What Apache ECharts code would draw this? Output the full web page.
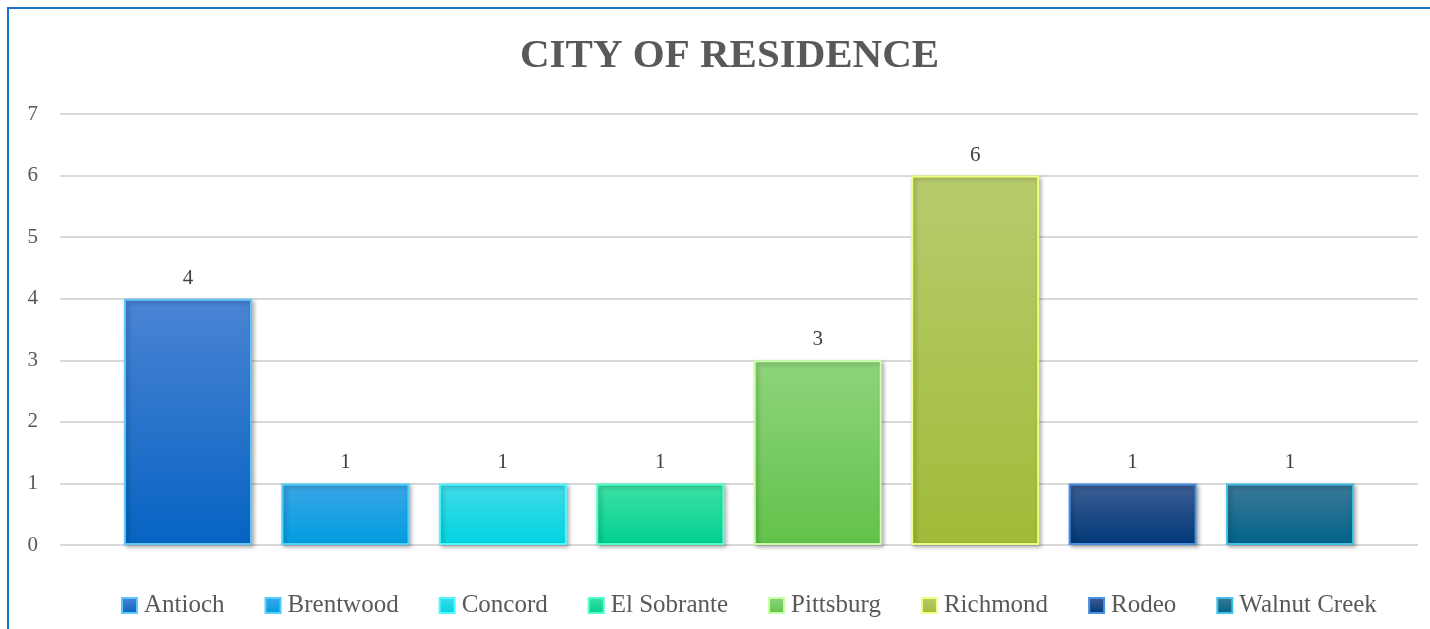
<!DOCTYPE html>
<html>
<head>
<meta charset="utf-8">
<script src="https://cdn.jsdelivr.net/npm/echarts@6/dist/echarts.min.js"></script>
<style>
html,body{margin:0;padding:0;background:#fff;}
#frame{position:absolute;left:7px;top:7px;width:1440px;height:640px;border-left:2px solid #1a72cc;border-top:2px solid #1a72cc;box-sizing:border-box;}
#chart{position:absolute;left:0;top:0;width:1430px;height:629px;}
</style>
</head>
<body>
<div id="frame"></div>
<div id="chart"></div>
<script>
const title = 'CITY OF RESIDENCE';
const cities = ['Antioch','Brentwood','Concord','El Sobrante','Pittsburg','Richmond','Rodeo','Walnut Creek'];
const counts = [4,1,1,1,3,6,1,1];
const yTicks = [0,1,2,3,4,5,6,7];
const topColors = ['#4a84d4','#3aa6e6','#40dce8','#3ee0a4','#8ed47c','#b8cc6e','#3e5e94','#3c7898'];
const bottomColors = ['#0663c2','#009de0','#00d4e0','#00d090','#62c24a','#a0bb38','#003878','#006488'];
const edgeColors = ['#5cc8f8','#50d0ff','#50f8ff','#50ffd0','#c8ffa8','#f0ff80','#4a90e0','#40c0e8'];

const chart = echarts.init(document.getElementById('chart'));
const font = '"Liberation Serif", "DejaVu Serif", serif';
const series = cities.map((c, i) => ({
  name: c,
  type: 'bar',
  barWidth: 128,
  barGap: '23%',
  data: [counts[i]],
  itemStyle: {
    color: new echarts.graphic.LinearGradient(0,0,0,1,[{offset:0,color:topColors[i]},{offset:1,color:bottomColors[i]}]),
    borderColor: edgeColors[i],
    borderWidth: 2,
    shadowBlur: 4,
    shadowColor: 'rgba(0,0,0,0.3)',
    shadowOffsetX: 2,
    shadowOffsetY: 2
  },
  label: {
    show: true,
    position: 'top',
    distance: 10,
    fontFamily: font,
    fontSize: 21,
    color: '#404040'
  }
}));

chart.setOption({
  animation: false,
  title: {
    text: title,
    left: 515,
    top: 31,
    textStyle: {fontFamily: font, fontSize: 41, fontWeight: 'bold', color: '#595959'}
  },
  legend: {
    data: cities,
    bottom: 6,
    left: 116,
    icon: 'rect',
    itemWidth: 15,
    itemHeight: 15,
    itemGap: 40,
    textStyle: {fontFamily: font, fontSize: 25, color: '#595959', padding: [0,0,0,2]}
  },
  grid: {left: 60, right: 12, top: 114, bottom: 84},
  xAxis: {
    type: 'category',
    data: ['City'],
    axisLine: {show: false},
    axisTick: {show: false},
    axisLabel: {show: false}
  },
  yAxis: {
    type: 'value',
    min: yTicks[0],
    max: yTicks[yTicks.length-1],
    interval: 1,
    axisLine: {show: false},
    axisTick: {show: false},
    axisLabel: {fontFamily: font, fontSize: 21, color: '#595959', margin: 22},
    splitLine: {lineStyle: {color: '#d9d9d9', width: 2}}
  },
  series: series
});
</script>
</body>
</html>
